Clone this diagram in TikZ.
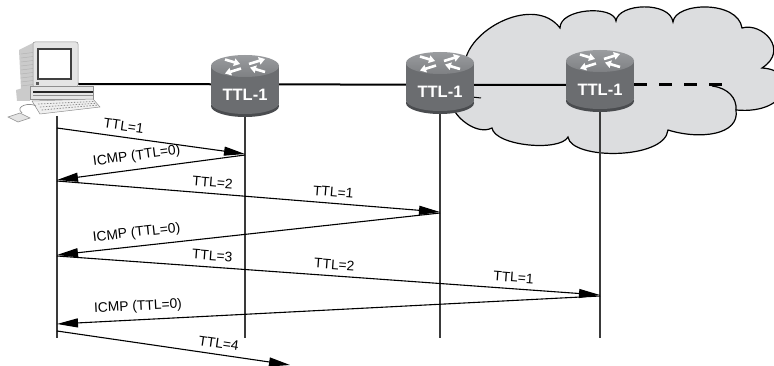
\documentclass[tikz,border=0pt]{standalone}
\usepackage{fontspec}
\setmainfont{Liberation Sans}
\usetikzlibrary{arrows.meta}

\definecolor{cloudgray}{HTML}{DCDDDF}
\definecolor{rtrtop}{HTML}{9A9C9F}
\definecolor{rtrtopdark}{HTML}{7E8083}
\definecolor{rtrbody}{HTML}{6B6D70}
\definecolor{rtrrim}{HTML}{4A4C4F}
\definecolor{lifeline}{HTML}{3A3A3A}
\definecolor{pclight}{HTML}{E4E4E4}
\definecolor{pcmid}{HTML}{CBCBCB}
\definecolor{pcdark}{HTML}{8E8E8E}

\tikzset{
  msg/.style={draw=black, line width=1.1pt, -{Triangle[length=21pt,width=9pt]}},
  msglabel/.style={font=\fontsize{13.8}{15}\selectfont, above=5pt, inner sep=1pt},
  lifelinest/.style={draw=lifeline, line width=1.3pt},
  wire/.style={line width=2pt},
  tail/.style={line width=3pt, dash pattern=on 13pt off 12pt},
  cloudshape/.style={fill=cloudgray, draw=black, line width=1.2pt},
  rtrarrow/.style={white, line width=2.6pt, -{Triangle[length=6pt,width=7.5pt]}},
  pics/router/.style={code={
    \fill[rtrrim] (0,40) ellipse[x radius=34, y radius=11];
    \fill[rtrbody] (0,37) ellipse[x radius=34, y radius=11];
    \fill[rtrbody] (-34,0) rectangle (34,37);
    \shade[top color=rtrtop, bottom color=rtrtopdark] (0,0) ellipse[x radius=34, y radius=11];
    \draw[rtrarrow] (-20,-6.5) -- (-5,-2);
    \draw[rtrarrow] (4,-2) -- (20,-7);
    \draw[rtrarrow] (-4,2.5) -- (-20,7.5);
    \draw[rtrarrow] (20,6) -- (5,1.5);
    \node[text=white, font=\bfseries\fontsize{16.5}{16.5}\selectfont, inner sep=0pt] (-lbl) at (0,29) {TTL-1};
  }},
}

\begin{document}
\begin{tikzpicture}[x=1pt,y=-1pt]
\useasboundingbox (0,0) rectangle (774,366);

% network cloud behind the two far routers
\path[cloudshape] (465,62)
  .. controls (470,28) and (535,-5) .. (560,28)
  .. controls (560,8) and (614,5) .. (616,21)
  .. controls (618,3) and (670,1) .. (673,22)
  .. controls (675,2) and (738,0) .. (742,28)
  .. controls (762,22) and (790,50) .. (762,68)
  .. controls (800,70) and (790,115) .. (736,110)
  .. controls (740,135) and (700,140) .. (668,130)
  .. controls (665,160) and (571,160) .. (568,137)
  .. controls (560,152) and (495,146) .. (492,128)
  .. controls (478,135) and (458,120) .. (453,108)
  -- cycle;
\draw[line width=1.2pt] (712,86) .. controls (728,88) and (737,98) .. (736,110);
\draw[line width=1pt] (472,97) -- (481,98);

% anchor points
\coordinate (pc) at (78,84);
\coordinate (r1c) at (245,85);
\coordinate (r2c) at (440,85);
\coordinate (r3c) at (600,85);
\coordinate (r3e) at (634,85);
\coordinate (tailend) at (722,85);

\coordinate (hTop) at (57,116);
\coordinate (hEnd) at (57,338);
\coordinate (r1Top) at (245,112);
\coordinate (r1End) at (245,338);
\coordinate (r2Top) at (440,108);
\coordinate (r2End) at (440,338);
\coordinate (r3Top) at (600,106);
\coordinate (r3End) at (600,338);

% links
\draw[wire] (pc) -- (r3c);
\draw[tail] (r3e) -- (tailend);

% lifelines
\draw[lifelinest] (hTop) -- (hEnd);
\draw[lifelinest] (r1Top) -- (r1End);
\draw[lifelinest] (r2Top) -- (r2End);
\draw[lifelinest] (r3Top) -- (r3End);

% routers
\pic (r1) at (245,66) {router};
\pic (r2) at (440,63) {router};
\pic (r3) at (600,61) {router};

% workstation
\fill[pcmid] (19,50) -- (33,43) -- (33,87) -- (21,89) -- cycle;
\foreach \yy in {54,58,...,86} \draw[pcdark!70, line width=0.4pt] (21,\yy) -- (33,\yy-1.5);
\fill[pclight, draw=pcdark, line width=0.5pt, rounded corners=2pt] (33,42) rectangle (78,87);
\fill[white, draw=black!75, line width=1.3pt] (38,49) rectangle (71,79);
\fill[black!65] (36,82) rectangle (39,85);
\fill[pcmid] (16,90) -- (30,86) -- (30,101) -- (17,101) -- cycle;
\fill[pclight, draw=pcdark, line width=0.4pt] (30,86) rectangle (93,99);
\draw[black!85, line width=1.6pt] (33,92) -- (93,92);
\draw[pcdark, line width=0.6pt] (33,95) -- (93,95);
\fill[black!6, draw=pcdark, line width=0.5pt] (32,101) -- (93,99) -- (100,107) -- (40,114) -- cycle;
\foreach \k in {0,1,2} \draw[pcdark, line width=0.8pt, dash pattern=on 1.5pt off 1.5pt] (38+1.8*\k,104+3*\k) -- (94+1.6*\k,101.5+1.8*\k);
\draw[pcdark, line width=0.7pt] (22,113) .. controls (14,106) and (30,102) .. (36,106);
\fill[pclight, draw=pcdark, line width=0.5pt] (8,117) -- (20,113) -- (30,118) -- (18,122) -- cycle;

% message exchange
\coordinate (h1) at (57,128);   \coordinate (a1) at (245,154);
\coordinate (a2) at (245,155);  \coordinate (h2) at (57,180);
\coordinate (h3) at (57,181);   \coordinate (b3) at (440,212);
\coordinate (b4) at (440,213);  \coordinate (h4) at (57,255);
\coordinate (h5) at (57,256);   \coordinate (c5) at (600,295);
\coordinate (c6) at (600,296);  \coordinate (h6) at (57,324);
\coordinate (h7) at (57,331);   \coordinate (x7) at (290,365);

\draw[msg] (h1) -- node[msglabel, pos=0.35, rotate=-7.9] (l1) {TTL=1} (a1);
\draw[msg] (a2) -- node[msglabel, pos=0.57, rotate=7.6] (l2) {ICMP (TTL=0)} (h2);
\draw[msg] (h3) -- node[msglabel, pos=0.405, rotate=-4.6] (l3) {TTL=2}
                   node[msglabel, pos=0.72, rotate=-4.6] (l4) {TTL=1} (b3);
\draw[msg] (b4) -- node[msglabel, pos=0.79, rotate=6.3] (l5) {ICMP (TTL=0)} (h4);
\draw[msg] (h5) -- node[msglabel, pos=0.285, rotate=-4.1] (l6) {TTL=3}
                   node[msglabel, pos=0.51, rotate=-4.1] (l7) {TTL=2}
                   node[msglabel, pos=0.84, rotate=-4.1] (l8) {TTL=1} (c5);
\draw[msg] (c6) -- node[msglabel, pos=0.85, rotate=2.9] (l9) {ICMP (TTL=0)} (h6);
\draw[msg] (h7) -- node[msglabel, pos=0.69, rotate=-8.3] (l10) {TTL=4} (x7);
\end{tikzpicture}
\end{document}
